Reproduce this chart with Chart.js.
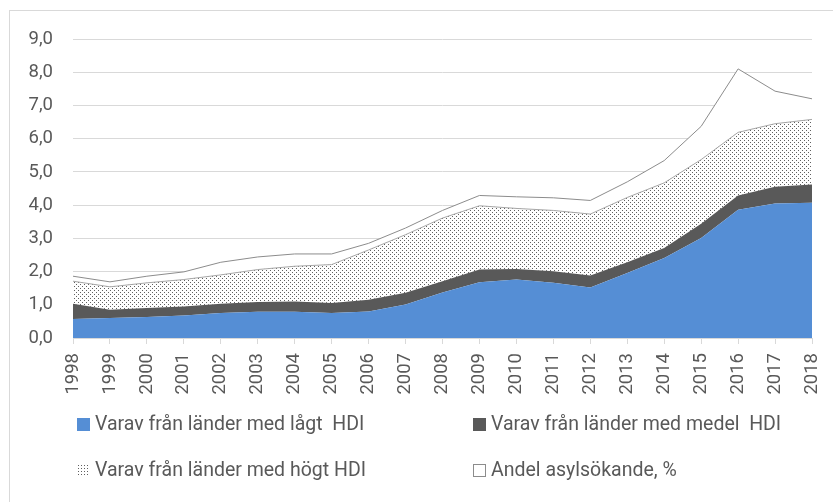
<!DOCTYPE html>
<html>
<head>
<meta charset="utf-8">
<script src="https://cdn.jsdelivr.net/npm/chart.js@4.4.1/dist/chart.umd.min.js"></script>
<style>
  body { margin: 0; background: #fff; }
  #wrap { position: relative; width: 833px; height: 502px; overflow: hidden; }
  #ram { position: absolute; left: 9px; top: 10px; width: 900px; height: 600px; border: 1px solid #d9d9d9; }
  #graf { position: absolute; left: 0; top: 0; }
  .leg { position: absolute; font-family: Roboto, sans-serif; font-size: 19.5px; line-height: 23px; color: #595959; white-space: pre; }
  .ruta { position: absolute; width: 13px; height: 13px; box-sizing: border-box; }
</style>
</head>
<body>
<div id="wrap">
  <div id="ram"></div>
  <canvas id="graf" width="833" height="502"></canvas>
  <div id="legend"></div>
</div>
<script>
const ar = ['1998','1999','2000','2001','2002','2003','2004','2005','2006','2007','2008','2009','2010','2011','2012','2013','2014','2015','2016','2017','2018'];

// andelar i procent, läst ur bilden
const lagtHDI  = [0.57,0.60,0.63,0.68,0.75,0.79,0.79,0.75,0.80,1.01,1.37,1.68,1.76,1.66,1.52,1.96,2.41,3.01,3.86,4.05,4.07];
const medelHDI = [0.46,0.25,0.27,0.27,0.28,0.29,0.31,0.30,0.35,0.35,0.34,0.38,0.32,0.35,0.36,0.32,0.30,0.43,0.43,0.50,0.55];
const hogtHDI  = [0.68,0.69,0.76,0.81,0.87,0.98,1.06,1.16,1.50,1.75,1.90,1.92,1.82,1.83,1.85,1.95,1.96,1.93,1.90,1.90,1.96];
const andelTotal = [1.86,1.69,1.86,1.99,2.28,2.44,2.53,2.53,2.85,3.31,3.84,4.29,4.25,4.22,4.14,4.70,5.34,6.37,8.10,7.43,7.20];

const etiketter = [
    'Varav från länder med lågt  HDI',
    'Varav från länder med medel  HDI',
    'Varav från länder med högt HDI',
    'Andel asylsökande, %'
];

const gra = '#595959';
const blaa = '#558ed5';

// prickigt mönster
function prickar() {
    const c = document.createElement('canvas');
    c.width = 4; c.height = 4;
    const g = c.getContext('2d');
    g.fillStyle = '#fff';
    g.fillRect(0, 0, 4, 4);
    g.fillStyle = '#606060';
    g.fillRect(0, 0, 1, 1);
    g.fillRect(2, 2, 1, 1);
    return g.createPattern(c, 'repeat');
}
const monster = prickar();

const typsnitt = { family: 'Roboto, sans-serif', size: 18.5 };

new Chart(document.getElementById('graf'), {
    type: 'line',
    data: {
        labels: ar,
        datasets: [{
            label: etiketter[0],
            data: lagtHDI,
            stack: 'hdi',
            backgroundColor: blaa,
            borderWidth: 0,
            fill: 'origin'
        }, {
            label: etiketter[1],
            data: medelHDI,
            stack: 'hdi',
            backgroundColor: gra,
            borderWidth: 0,
            fill: '-1'
        }, {
            label: etiketter[2],
            data: hogtHDI,
            stack: 'hdi',
            backgroundColor: monster,
            borderColor: '#a6a6a6',
            borderWidth: 1,
            fill: '-1'
        }, {
            label: etiketter[3],
            data: andelTotal,
            stack: 'total',
            backgroundColor: '#fff',
            borderColor: '#8c8c8c',
            borderWidth: 1,
            fill: 'origin'
        }]
    },
    options: {
        responsive: false,
        devicePixelRatio: 1,
        animation: false,
        elements: { point: { radius: 0 }, line: { tension: 0 } },
        layout: { padding: { top: 39, right: 21, left: 0, bottom: 0 } },
        plugins: { legend: { display: false }, tooltip: { enabled: false } },
        scales: {
            x: {
                offset: false,
                grid: { drawOnChartArea: false, color: '#d9d9d9', tickLength: 6 },
                border: { color: '#d9d9d9' },
                ticks: { autoSkip: false, minRotation: 90, maxRotation: 90, padding: 9, color: gra, font: typsnitt },
                afterFit: s => { s.height = 164; s.paddingLeft = 0; s.paddingRight = 0; }
            },
            y: {
                stacked: true,
                min: 0,
                max: 9,
                grid: { color: '#d9d9d9', drawTicks: false },
                border: { display: false },
                ticks: {
                    stepSize: 1,
                    padding: 20,
                    color: gra,
                    font: typsnitt,
                    callback: v => v.toFixed(1).replace('.', ',')
                },
                afterFit: s => { s.width = 73; }
            }
        }
    }
});

// förklaring i två kolumner som i originalet
const legend = document.getElementById('legend');
const plats = [[77, 412], [473, 412], [77, 458], [473, 458]];
etiketter.forEach((t, i) => {
    const [x, y] = plats[i];
    const ruta = document.createElement('div');
    ruta.className = 'ruta';
    ruta.style.left = x + 'px';
    ruta.style.top = (y + 6) + 'px';
    if (i === 0) ruta.style.background = blaa;
    if (i === 1) ruta.style.background = gra;
    if (i === 2) {
        ruta.style.width = '11px';
        ruta.style.backgroundImage = 'radial-gradient(#606060 0.7px, transparent 0.8px)';
        ruta.style.backgroundSize = '3px 3px';
    }
    if (i === 3) ruta.style.border = '1px solid #8c8c8c';
    legend.appendChild(ruta);
    const txt = document.createElement('div');
    txt.className = 'leg';
    txt.style.left = (x + 18) + 'px';
    txt.style.top = y + 'px';
    txt.textContent = t;
    legend.appendChild(txt);
});
</script>
</body>
</html>
